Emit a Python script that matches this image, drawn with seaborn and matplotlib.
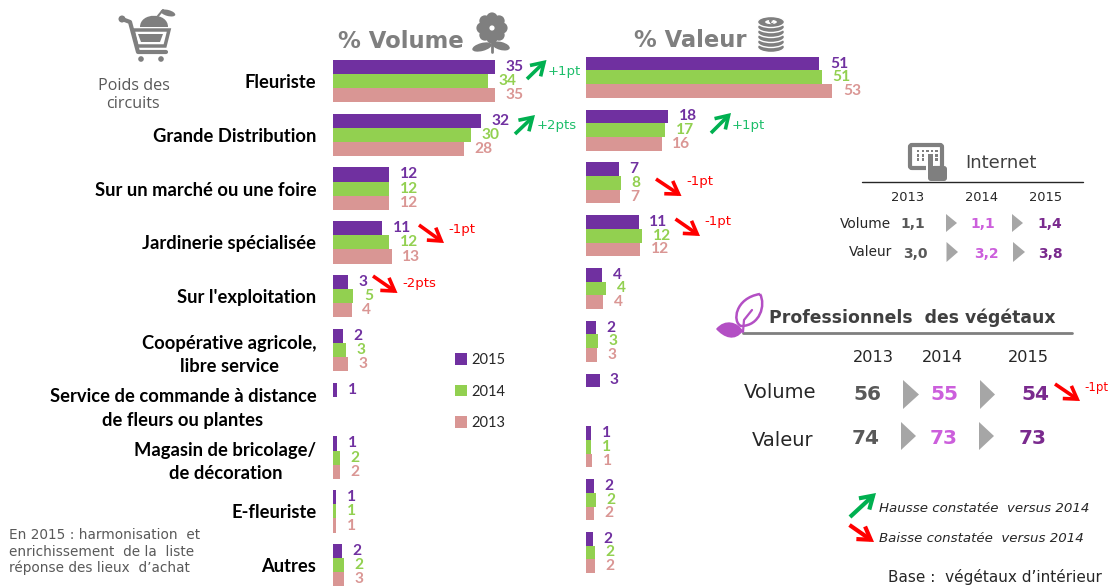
import numpy as np
import pandas as pd
import seaborn as sns
from matplotlib import pyplot as plt
from matplotlib.patches import Circle, Ellipse, FancyArrowPatch, FancyBboxPatch, PathPatch, Polygon, Rectangle
from matplotlib.path import Path

# data
circuits = ['Fleuriste', 'Grande Distribution', 'Sur un marché ou une foire', 'Jardinerie spécialisée',
            "Sur l'exploitation", 'Coopérative agricole,\nlibre service',
            'Service de commande à distance\nde fleurs ou plantes', 'Magasin de bricolage/\nde décoration',
            'E-fleuriste', 'Autres']
years = ['2015', '2014', '2013']

# bar lengths (slightly finer than the rounded labels)
volume_2015 = [35.0, 31.9, 12.2, 10.6, 3.2, 2.2, 0.9, 0.9, 0.65, 2.0]
volume_2014 = [33.5, 29.8, 12.2, 12.2, 4.4, 2.8, 0, 1.5, 0.65, 2.3]
volume_2013 = [35.0, 28.3, 12.2, 12.7, 4.1, 3.2, 0, 1.5, 0.65, 2.4]
valeur_2015 = [50.2, 17.7, 7.1, 11.4, 3.6, 2.3, 3.0, 1.2, 1.9, 1.6]
valeur_2014 = [50.7, 17.1, 7.6, 12.2, 4.4, 2.7, 0, 1.2, 2.3, 2.0]
valeur_2013 = [53.0, 16.3, 7.3, 11.7, 3.8, 2.5, 0, 1.4, 1.9, 2.0]

# printed labels
volume_labels = {'2015': ['35', '32', '12', '11', '3', '2', '1', '1', '1', '2'],
                 '2014': ['34', '30', '12', '12', '5', '3', '', '2', '1', '2'],
                 '2013': ['35', '28', '12', '13', '4', '3', '', '2', '1', '3']}
valeur_labels = {'2015': ['51', '18', '7', '11', '4', '2', '3', '1', '2', '2'],
                 '2014': ['51', '17', '8', '12', '4', '3', '', '1', '2', '2'],
                 '2013': ['53', '16', '7', '12', '4', '3', '', '1', '2', '2']}

purple = '#7030A0'
green = '#92D050'
pink = '#D99694'
palette = {'2015': purple, '2014': green, '2013': pink}
label_colors = {'2015': '#7030A0', '2014': '#92D050', '2013': '#DA9694'}
grey = '#7F7F7F'
tri_grey = '#A6A6A6'
arrow_green = '#00B050'
arrow_red = '#FF0000'
magenta = '#CC5FDC'
dark_purple = '#7A2A8E'
leaf_purple = '#B34FC4'

sns.set_style('white')
plt.rcParams['font.family'] = 'DejaVu Sans'

W, H = 1117, 586
fig = plt.figure(figsize=(W / 100, H / 100), dpi=100)


def panel_axes(left, right, first_center, step):
    # axes placed in pixels so that each category sits on its row
    top = first_center - step / 2
    bottom = first_center + 9 * step + step / 2
    ax = fig.add_axes([left / W, 1 - bottom / H, (right - left) / W, (bottom - top) / H])
    ax.patch.set_alpha(0)
    return ax


def draw_panel(ax, series, labels, px_per_unit, width_px, wid):
    df = pd.DataFrame({'circuit': circuits, '2015': series[0], '2014': series[1], '2013': series[2]})
    df = df.melt(id_vars='circuit', var_name='year', value_name='share')
    sns.barplot(data=df, y='circuit', x='share', hue='year', order=circuits, hue_order=years,
                palette=palette, saturation=1, width=wid, gap=0, ax=ax, legend=True, linewidth=0)
    for year, cont in zip(years, ax.containers):
        ax.bar_label(cont, labels=labels[year], padding=7.5, color=label_colors[year], fontweight='bold',
                     fontsize=11.2, family='Lato')
    ax.set_xlim(0, width_px / px_per_unit)
    ax.set(xlabel='', ylabel='', xticks=[])
    sns.despine(ax=ax, left=True, bottom=True)
    ax.tick_params(axis='y', length=0)


ax_vol = panel_axes(333, 585, 81, 53.8)
draw_panel(ax_vol, [volume_2015, volume_2014, volume_2013], volume_labels, 4.63, 252, 0.79)
ax_vol.tick_params(axis='y', pad=12)
for tick in ax_vol.get_yticklabels():
    tick.set_multialignment('center')
    tick.set_fontfamily('Lato')
    tick.set_fontweight('bold')
    tick.set_fontsize(13.2)
    tick.set_linespacing(1.45)
    tick.set_color('black')
ax_vol.legend(loc='upper left', bbox_to_anchor=(442 / W, 1 - 340 / H), bbox_transform=fig.transFigure,
              frameon=False, handlelength=0.82, handleheight=0.82, labelspacing=1.2,
              handletextpad=0.27, prop={'family': 'Lato', 'size': 10.5})

ax_val = panel_axes(585.6, 860, 77.3, 52.8)
draw_panel(ax_val, [valeur_2015, valeur_2014, valeur_2013], valeur_labels, 4.65, 274, 0.78)
ax_val.set_yticklabels([])
ax_val.get_legend().remove()

# overlay in pixel coordinates for texts, icons and arrows
ov = fig.add_axes([0, 0, 1, 1])
ov.set_xlim(0, W)
ov.set_ylim(H, 0)
ov.axis('off')
ov.patch.set_alpha(0)


def txt(x, y, s, size, color='black', ha='left', **kw):
    ov.text(x, y, s, fontsize=size, color=color, ha=ha, va='center', **kw)


def arrow(x0, y0, x1, y1, color, lw=2.6):
    ov.add_patch(FancyArrowPatch((x0, y0), (x1, y1), arrowstyle='->,head_length=4,head_width=2.5',
                                 mutation_scale=2.2, color=color, lw=lw, shrinkA=0, shrinkB=0,
                                 joinstyle='miter', capstyle='butt'))


def triangle(x0, x1, y0, y1):
    ov.add_patch(Polygon([(x0, y0), (x1, (y0 + y1) / 2), (x0, y1)], closed=True, color=tri_grey, lw=0))


# titles
txt(338, 42, '% Volume', 16.4, grey, fontweight='bold')
txt(634, 40.5, '% Valeur', 16.3, grey, fontweight='bold')
txt(134, 86, 'Poids des', 11.6, '#595959', ha='center', family='Open Sans')
txt(133, 104, 'circuits', 11.6, '#595959', ha='center', family='Open Sans')

# trend arrows
arrow(527, 79, 546.5, 60, arrow_green)
txt(547.5, 71, '+1pt', 9.5, '#1DBE6A')
arrow(515, 134, 535, 115, arrow_green)
txt(537, 126, '+2pts', 9.5, '#1DBE6A')
arrow(711, 133, 731, 113, arrow_green)
txt(732, 125, '+1pt', 9.5, '#1DBE6A')
arrow(419, 225, 444, 243, arrow_red)
txt(448, 229, '-1pt', 9.5, arrow_red)
arrow(373, 276, 397.5, 293, arrow_red)
txt(402, 284, '-2pts', 9.5, arrow_red)
arrow(656, 179, 681.5, 196, arrow_red)
txt(686, 182, '-1pt', 9.5, arrow_red)
arrow(675.5, 219, 700, 236, arrow_red)
txt(704, 222, '-1pt', 9.5, arrow_red)

# left note
txt(9, 535, 'En 2015 : harmonisation  et', 9.8, '#595959')
txt(9, 552, 'enrichissement  de la  liste', 9.8, '#595959')
txt(9, 568, "réponse des lieux  d’achat", 9.8, '#595959')

# Internet block
txt(965, 163.5, 'Internet', 13, '#404040')
ov.plot([862, 1083], [181.5, 181.5], color='#262626', lw=1)
for x, y in zip([908, 982, 1046], ['2013', '2014', '2015']):
    txt(x, 197.5, y, 9.4, '#262626', ha='center')
txt(865, 223.5, 'Volume', 9.8, '#262626', ha='center')
txt(870.5, 252.5, 'Valeur', 9.8, '#262626', ha='center')
for x, y, s, c in [(913, 224, '1,1', '#595959'), (983, 224, '1,1', magenta), (1050, 224, '1,4', dark_purple),
                   (915, 254.5, '3,0', '#595959'), (986, 253.5, '3,2', magenta), (1050, 254.5, '3,8', dark_purple)]:
    txt(x, y, s, 10, c, ha='center', fontweight='bold')
triangle(946, 957, 214, 232)
triangle(1012, 1023, 214, 232)
triangle(946.5, 958, 242, 262)
triangle(1013, 1025, 242, 262)

# Professionnels block
txt(769, 318, 'Professionnels  des végétaux', 12.4, '#404040', fontweight='bold')
ov.plot([743, 1072], [333, 333], color='#7F7F7F', lw=2)
for x, y in zip([873, 942, 1028], ['2013', '2014', '2015']):
    txt(x, 358, y, 11.6, '#262626', ha='center')
txt(780, 392.5, 'Volume', 14, '#262626', ha='center')
txt(783, 441, 'Valeur', 14, '#262626', ha='center')
for x, y, s, c in [(867, 395, '56', '#595959'), (944, 395, '55', magenta), (1035, 395, '54', dark_purple),
                   (865.5, 439, '74', '#595959'), (944, 438, '73', magenta), (1033, 439, '73', dark_purple)]:
    txt(x, y, s, 14.5, c, ha='center', fontweight='bold')
triangle(903, 919, 380, 409)
triangle(980, 995, 380, 409)
triangle(901, 916, 422, 450)
triangle(979, 994, 422, 450)
arrow(1055, 384, 1080, 401, arrow_red)
txt(1084, 388, '-1pt', 8.5, arrow_red)

# arrow key
arrow(850, 517, 876, 493, arrow_green, lw=3)
txt(879, 508, 'Hausse constatée  versus 2014', 9.65, '#262626', style='italic')
arrow(849.5, 525, 874, 542, arrow_red, lw=3)
txt(879, 538, 'Baisse constatée  versus 2014', 9.65, '#262626', style='italic')
txt(887.5, 577, 'Base :  végétaux d’intérieur', 11, '#262626')

# cart icon
ov.add_patch(Circle((122, 19), 3.5, color=grey, lw=0))
ov.plot([122, 130, 138, 166], [19, 22, 52, 52], color=grey, lw=3, solid_joinstyle='round')
ov.add_patch(Polygon([(133, 30), (169, 30), (165, 46), (137, 46)], closed=True, fill=False, ec=grey, lw=2.5))
ov.add_patch(Polygon([(138, 34), (163, 34), (160, 42), (141, 42)], closed=True, color=grey, lw=0))
ov.add_patch(Circle((141, 59), 2.8, color=grey, lw=0))
ov.add_patch(Circle((161, 59), 2.8, color=grey, lw=0))
ov.add_patch(PathPatch(Path([(140, 27), (140, 12), (168, 12), (168, 27), (140, 27)],
                            [Path.MOVETO, Path.CURVE4, Path.CURVE4, Path.CURVE4, Path.CLOSEPOLY]), color=grey, lw=0))
ov.add_patch(Ellipse((168, 13), 15, 6, angle=15, color=grey, lw=0))
ov.plot([158, 163], [16, 10], color=grey, lw=1.5)

# flower icon
for a in np.deg2rad(np.arange(0, 360, 45)):
    ov.add_patch(Circle((492 + 10 * np.cos(a), 28 + 10 * np.sin(a)), 5.6, color=grey, lw=0))
ov.add_patch(Circle((492, 28), 6, color=grey, lw=0))
ov.add_patch(Circle((492, 28), 2.6, color='white', lw=0))
ov.plot([492, 492], [40, 52], color=grey, lw=2)
ov.add_patch(Ellipse((482, 47), 20, 8, angle=-15, color=grey, lw=0))
ov.add_patch(Ellipse((501, 46), 18, 8, angle=15, color=grey, lw=0))

# coins icon
for y in [47, 42, 37, 32, 27, 22]:
    ov.add_patch(Ellipse((771, y), 27, 11, fc=grey, ec='white', lw=1))
ov.add_patch(Ellipse((771, 22), 13, 5.5, fc='white', ec=grey, lw=0.8))
ov.text(771, 22, '€', fontsize=5, color=grey, ha='center', va='center', fontweight='bold')

# tablet icon
ov.add_patch(FancyBboxPatch((910, 145), 32, 23, boxstyle='round,pad=0,rounding_size=2', fill=False, ec=grey, lw=3))
for row in range(3):
    for col in range(5):
        ov.add_patch(Rectangle((917 + col * 4.6, 150 + row * 4.2), 2.4, 2.4, color=grey, lw=0))
ov.add_patch(Rectangle((926, 152), 8, 20, color='white', lw=0))
ov.add_patch(Rectangle((928, 154), 4.5, 18, color=grey, lw=0))
ov.add_patch(FancyBboxPatch((928, 166), 19, 15, boxstyle='round,pad=0,rounding_size=3', color=grey, lw=0))

# leaf icon
ov.add_patch(PathPatch(Path([(760, 294), (735, 298), (732, 322), (741, 326), (760, 326), (766, 305), (760, 294)],
                            [Path.MOVETO, Path.CURVE4, Path.CURVE4, Path.CURVE4, Path.CURVE4, Path.CURVE4, Path.CURVE4]),
                       fill=False, ec=leaf_purple, lw=1.8))
ov.plot([743, 744, 752], [332, 320, 310], color=leaf_purple, lw=1.6)
ov.add_patch(PathPatch(Path([(716, 329), (725, 318), (738, 322), (743, 331), (735, 342), (724, 338), (716, 329)],
                            [Path.MOVETO, Path.CURVE4, Path.CURVE4, Path.CURVE4, Path.CURVE4, Path.CURVE4, Path.CURVE4]),
                       color=leaf_purple, lw=0))

fig.savefig('out.png', dpi=100)
